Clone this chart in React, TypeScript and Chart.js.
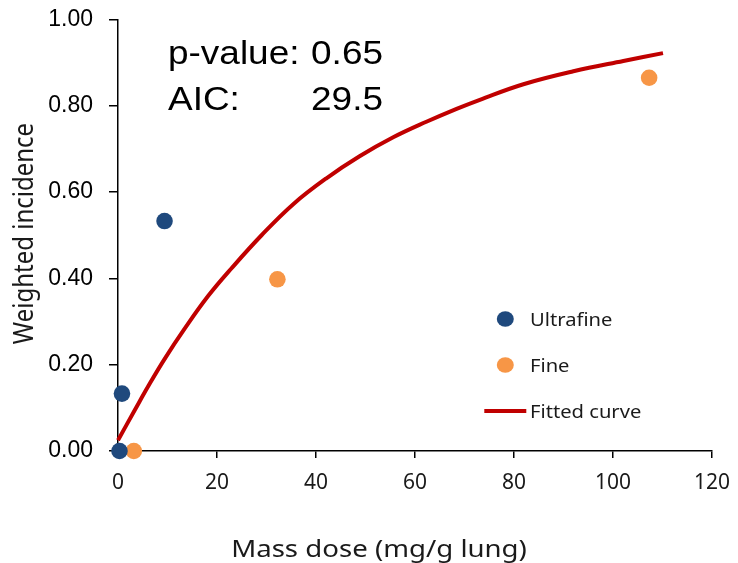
import React, { useEffect, useRef } from "react";
import { Chart, registerables } from "chart.js";

Chart.register(...registerables);

// ---- data ----
const ultrafineDose = [0.3, 0.8, 9.4];
const ultrafineIncidence = [0.0, 0.133, 0.533];

const fineDose = [3.2, 32.2, 107.3];
const fineIncidence = [0.0, 0.398, 0.865];

const curveDose = [0, 3.4, 6.1, 9.4, 13.5, 18.2, 22.9, 29.0, 35.4, 42.1, 48.8, 55.6, 62.3, 68.4, 73.1, 81.9, 92.0, 102.1, 110.1];
const curveIncidence = [0.025, 0.095, 0.15, 0.213, 0.284, 0.359, 0.423, 0.5, 0.572, 0.632, 0.683, 0.727, 0.763, 0.793, 0.814, 0.85, 0.88, 0.904, 0.922];

const xTickValues = [0, 20, 40, 60, 80, 100, 120];
const xTickLabels = ["0", "20", "40", "60", "80", "100", "120"];
const yTickValues = [0, 0.2, 0.4, 0.6, 0.8, 1.0];
const yTickLabels = ["0.00", "0.20", "0.40", "0.60", "0.80", "1.00"];

const seriesLabels = ["Ultrafine", "Fine", "Fitted curve"];
const statLines = [
  { label: "p-value:", value: "0.65" },
  { label: "AIC:", value: "29.5" },
];
const xTitle = "Mass dose (mg/g lung)";
const yTitle = "Weighted incidence";

const BLUE = "#1F497D";
const ORANGE = "#F79646";
const RED = "#C00000";

function stretchedText(
  ctx: CanvasRenderingContext2D,
  text: string,
  x: number,
  y: number,
  font: string,
  align: CanvasTextAlign,
  sx: number,
  color: string
) {
  ctx.save();
  ctx.translate(x, y);
  ctx.scale(sx, 1);
  ctx.font = font;
  ctx.textAlign = align;
  ctx.textBaseline = "alphabetic";
  ctx.fillStyle = color;
  ctx.fillText(text, 0, 0);
  ctx.restore();
}

const decorPlugin = {
  id: "decor",
  afterDraw(chart: any) {
    const ctx: CanvasRenderingContext2D = chart.ctx;
    const a = chart.chartArea;
    // statistics text
    const statFont = "33px 'Liberation Sans', Arial, sans-serif";
    statLines.forEach((s, i) => {
      const baseY = a.top + 44 + i * 46.5;
      stretchedText(ctx, s.label, a.left + 50, baseY, statFont, "left", 1.12, "#000");
      stretchedText(ctx, s.value, a.left + 265, baseY, statFont, "right", 1.12, "#000");
    });

    // legend
    const legFont = "18px 'Noto Sans', sans-serif";
    const ds = chart.data.datasets;
    const lx = 505.3;
    const tx = 530;
    const baseYs = [326, 372, 418];
    ds.forEach((d: any, i: number) => {
      const by = baseYs[i];
      const cy = by - 7;
      ctx.save();
      if (d.showLine) {
        ctx.strokeStyle = d.borderColor;
        ctx.lineWidth = d.borderWidth;
        ctx.beginPath();
        ctx.moveTo(lx - 21, cy);
        ctx.lineTo(lx + 21, cy);
        ctx.stroke();
      } else {
        ctx.fillStyle = d.backgroundColor;
        ctx.beginPath();
        ctx.ellipse(lx, cy, 8.5, 7.8, 0, 0, Math.PI * 2);
        ctx.fill();
      }
      ctx.restore();
      stretchedText(ctx, d.label, tx, by, legFont, "left", 1.12, "#1a1a1a");
    });

    // axis titles
    stretchedText(ctx, xTitle, 379, 556.5, "24px 'Noto Sans', sans-serif", "center", 1.15, "#1a1a1a");
    ctx.save();
    ctx.translate(33, 233.5);
    ctx.scale(1.13, 1);
    ctx.rotate(-Math.PI / 2);
    ctx.font = "24px 'Noto Sans', sans-serif";
    ctx.textAlign = "center";
    ctx.textBaseline = "alphabetic";
    ctx.fillStyle = "#1a1a1a";
    ctx.fillText(yTitle, 0, 0);
    ctx.restore();
  },
};

export default function App() {
  const ref = useRef<HTMLCanvasElement | null>(null);

  useEffect(() => {
    document.body.style.margin = "0";
    const canvas = ref.current;
    if (!canvas) return;
    const chart = new Chart(canvas, {
      type: "scatter",
      data: {
        datasets: [
          {
            label: seriesLabels[0],
            data: ultrafineDose.map((x, i) => ({ x, y: ultrafineIncidence[i] })),
            backgroundColor: BLUE,
            borderColor: BLUE,
            pointRadius: 8.3,
            pointHoverRadius: 8.3,
            borderWidth: 0,
            showLine: false,
            clip: false,
            order: 1,
          } as any,
          {
            label: seriesLabels[1],
            data: fineDose.map((x, i) => ({ x, y: fineIncidence[i] })),
            backgroundColor: ORANGE,
            borderColor: ORANGE,
            pointRadius: 8.3,
            pointHoverRadius: 8.3,
            borderWidth: 0,
            showLine: false,
            clip: false,
            order: 2,
          } as any,
          {
            label: seriesLabels[2],
            data: curveDose.map((x, i) => ({ x, y: curveIncidence[i] })),
            borderColor: RED,
            backgroundColor: RED,
            borderWidth: 4,
            pointRadius: 0,
            showLine: true,
            tension: 0.4,
            clip: false,
            order: 3,
          } as any,
        ],
      },
      options: {
        animation: false,
        responsive: false,
        devicePixelRatio: 1,
        layout: { padding: { left: 0, top: 19.5, right: 26, bottom: 0 } },
        plugins: {
          legend: { display: false },
          tooltip: { enabled: false },
          title: { display: false },
        },
        scales: {
          x: {
            type: "linear",
            min: 0,
            max: 120,
            afterBuildTicks: (scale: any) => {
              scale.ticks = xTickValues.map((v) => ({ value: v }));
            },
            afterFit: (scale: any) => {
              scale.height = 112;
              scale.paddingLeft = 0;
              scale.paddingRight = 0;
            },
            ticks: {
              autoSkip: false,
              maxRotation: 0,
              padding: 12,
              color: "#1a1a1a",
              font: { family: "'Noto Sans', sans-serif", size: 21 },
              callback: (v: any) => {
                const i = xTickValues.indexOf(Number(v));
                return i >= 0 ? xTickLabels[i] : "";
              },
            },
            grid: {
              display: true,
              drawOnChartArea: false,
              drawTicks: true,
              tickLength: 7,
              color: "#000",
              lineWidth: 1.5,
            },
            border: { display: true, color: "#000", width: 1.5 },
          },
          y: {
            type: "linear",
            min: 0,
            max: 1,
            afterBuildTicks: (scale: any) => {
              scale.ticks = yTickValues.map((v) => ({ value: v }));
            },
            afterFit: (scale: any) => {
              scale.width = 118;
              scale.paddingTop = 0;
              scale.paddingBottom = 0;
            },
            ticks: {
              autoSkip: false,
              padding: 16,
              color: "#000",
              font: { family: "'Liberation Sans', Arial, sans-serif", size: 23 },
              callback: (v: any) => {
                const i = yTickValues.findIndex((t) => Math.abs(t - Number(v)) < 1e-9);
                return i >= 0 ? yTickLabels[i] : "";
              },
            },
            grid: {
              display: true,
              drawOnChartArea: false,
              drawTicks: true,
              tickLength: 9,
              color: "#000",
              lineWidth: 1.5,
            },
            border: { display: true, color: "#000", width: 1.5 },
          },
        },
      },
      plugins: [decorPlugin],
    });
    return () => chart.destroy();
  }, []);

  return (
    <div style={{ position: "absolute", left: 0, top: 0, width: 738, height: 563, background: "#fff" }}>
      <canvas ref={ref} width={738} height={563} style={{ width: 738, height: 563, display: "block" }} />
    </div>
  );
}
